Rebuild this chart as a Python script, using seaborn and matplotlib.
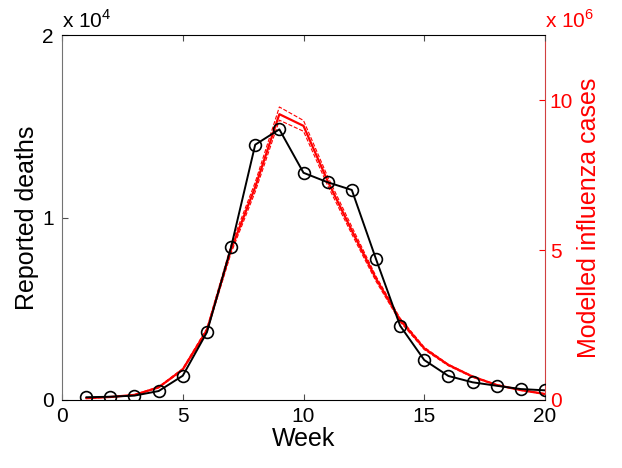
import numpy as np
import pandas as pd
import matplotlib
matplotlib.use("Agg")
import matplotlib.pyplot as plt
import seaborn as sns

weeks = list(range(1, 21))
deaths = [150, 180, 240, 490, 1330, 3710, 8370, 13990, 14830, 12450,
          11930, 11510, 7730, 4070, 2190, 1315, 970, 780, 600, 530]
# modelled cases, millions
cases_mid = [0.06, 0.10, 0.17, 0.42, 1.02, 2.33, 5.02, 7.10, 9.53, 9.14,
             7.30, 5.65, 4.05, 2.67, 1.72, 1.17, 0.78, 0.50, 0.33, 0.20]
cases_hi = [0.06, 0.10, 0.18, 0.44, 1.05, 2.39, 5.16, 7.26, 9.77, 9.32,
            7.45, 5.78, 4.13, 2.73, 1.76, 1.19, 0.80, 0.51, 0.34, 0.21]
cases_lo = [0.06, 0.09, 0.16, 0.41, 0.99, 2.27, 4.90, 6.94, 9.33, 8.96,
            7.15, 5.53, 3.96, 2.61, 1.68, 1.14, 0.76, 0.49, 0.32, 0.19]

sns.set_style("ticks")
plt.rcParams['font.family'] = ['Liberation Sans', 'DejaVu Sans']
plt.rcParams['mathtext.fontset'] = 'custom'
plt.rcParams['mathtext.rm'] = 'Liberation Sans'
plt.rcParams['text.color'] = 'black'
plt.rcParams['axes.labelcolor'] = 'black'
plt.rcParams['xtick.color'] = 'black'
plt.rcParams['ytick.color'] = 'black'

df = pd.DataFrame({'week': weeks, 'deaths': deaths,
                   'mid': np.array(cases_mid) * 1e6,
                   'hi': np.array(cases_hi) * 1e6,
                   'lo': np.array(cases_lo) * 1e6})

fig = plt.figure(figsize=(6.22, 4.68), dpi=100)
ax = fig.add_axes([0.0997, 0.1453, 0.7765, 0.7799])
ax2 = ax.twinx()

sns.lineplot(data=df, x='week', y='hi', ax=ax2, color='red', lw=0.8, linestyle='--')
sns.lineplot(data=df, x='week', y='lo', ax=ax2, color='red', lw=0.8, linestyle='--')
sns.lineplot(data=df, x='week', y='mid', ax=ax2, color='red', lw=1.6)

sns.lineplot(data=df, x='week', y='deaths', ax=ax, color='black', lw=1.4,
             marker='o', markersize=8.5, markerfacecolor='none',
             markeredgecolor='black', markeredgewidth=1.2)

ax.set_zorder(ax2.get_zorder() + 1)
ax.patch.set_visible(False)

ax.set_xlim(0, 20)
ax.set_ylim(0, 2e4)
ax.set_xticks([0, 5, 10, 15, 20])
ax.set_yticks([0, 1e4, 2e4])
ax.set_yticklabels(['0', '1', '2'])
ax2.set_ylim(0, 12.17e6)
ax2.set_yticks([0, 5e6, 10e6])
ax2.set_yticklabels(['0', '5', '10'])

ax.tick_params(axis='both', direction='in', length=4, labelsize=15, top=True,
               color='0.3', labelcolor='black')
ax.tick_params(axis='x', pad=5)
ax.tick_params(axis='y', pad=6)
ax2.tick_params(axis='y', direction='in', length=4, labelsize=15, colors='red')

for s in ['top', 'bottom']:
    ax.spines[s].set_color('black')
ax.spines['left'].set_color('0.45')
ax2.spines['right'].set_color('#d04040')
ax.spines['right'].set_visible(False)
for s in ['top', 'bottom', 'left']:
    ax2.spines[s].set_visible(False)

ax.set_xlabel('Week', fontsize=18, labelpad=1)
ax.set_ylabel('Reported deaths', fontsize=18, labelpad=2)
ax2.set_ylabel('Modelled influenza cases', fontsize=18, color='red', labelpad=3)

ax.text(0.0, 1.01, r'x 10$^4$', transform=ax.transAxes, fontsize=15,
        ha='left', va='bottom')
ax.text(1.0, 1.01, r'x 10$^6$', transform=ax.transAxes, fontsize=15,
        ha='left', va='bottom', color='red')

fig.savefig('out.png', dpi=100)
